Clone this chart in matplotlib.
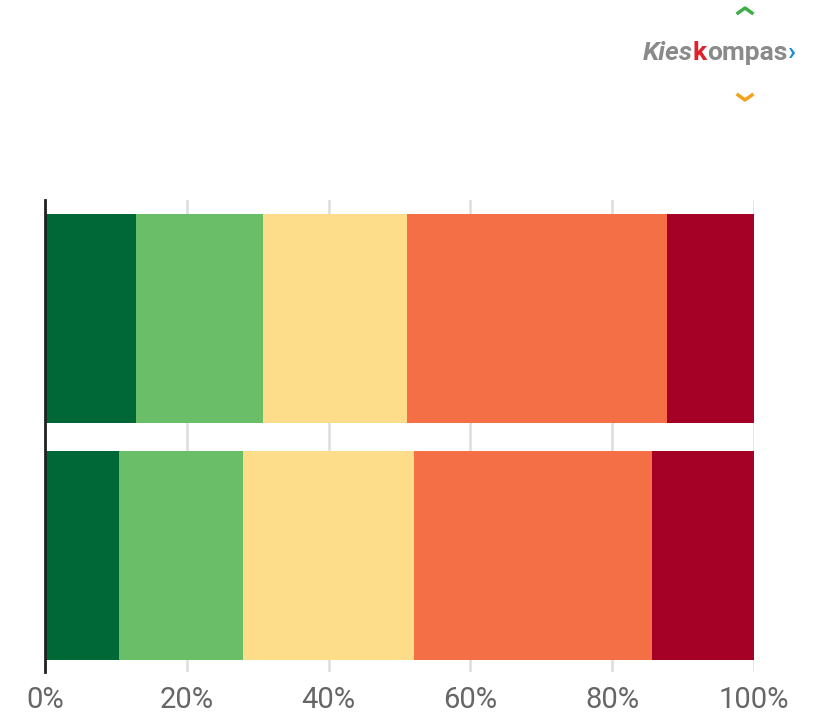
import matplotlib
matplotlib.use("Agg")
import matplotlib.pyplot as plt
from matplotlib.lines import Line2D
import numpy as np

plt.rcParams['font.family'] = ['Roboto', 'DejaVu Sans']

rows = ["A", "B"]
shares = {
    "zeer eens": [12.8, 10.4],
    "eens": [17.9, 17.5],
    "neutraal": [20.3, 24.1],
    "oneens": [36.7, 33.6],
    "zeer oneens": [12.3, 14.4],
}
colors = ["#006837", "#6abe67", "#fddc8a", "#f46f45", "#a50026"]
ticks = [0, 20, 40, 60, 80, 100]

W, H = 818, 720
fig = plt.figure(figsize=(W / 100, H / 100), dpi=100)
ax = fig.add_axes([45 / W, 1 - 672 / H, (754 - 45) / W, (672 - 200) / H])

y = np.arange(len(rows))
left = np.zeros(len(rows))
for (name, vals), c in zip(shares.items(), colors):
    ax.barh(y, vals, left=left, height=0.88, color=c, zorder=2)
    left += np.array(vals)

ax.set_xlim(0, 100)
ax.set_ylim(1.49, -0.5)
ax.set_xticks(ticks)
ax.set_xticklabels([f"{t}%" for t in ticks])
ax.set_yticks([])
ax.grid(axis='x', color='#dddddd', linewidth=1.8, zorder=0)
for s in ['top', 'right', 'bottom']:
    ax.spines[s].set_visible(False)
ax.spines['left'].set_linewidth(2)
ax.spines['left'].set_color('#222222')
ax.tick_params(axis='x', length=0, pad=10, labelsize=21, labelcolor='#666666')

# logo, pieces chained left to right
renderer = fig.canvas.get_renderer()
x = 643
pieces = [("Kies", '#8a8a8a', 'italic'), ("k", '#e0202a', 'normal'),
          ("ompas", '#8a8a8a', 'normal'), ("›", '#1f8ed6', 'normal')]
for txt, col, style in pieces:
    t = fig.text(x / W, 1 - 53 / H, txt, color=col, fontsize=19, fontstyle=style,
                 fontweight='bold', va='center', ha='left')
    x += t.get_window_extent(renderer).width

fig.add_artist(Line2D([738 / W, 745 / W, 752 / W], [1 - 13 / H, 1 - 8 / H, 1 - 13 / H],
                      color='#3fae49', linewidth=2.5))
fig.add_artist(Line2D([738 / W, 745 / W, 752 / W], [1 - 95 / H, 1 - 100 / H, 1 - 95 / H],
                      color='#f5a21b', linewidth=2.5))

fig.savefig("out.png", dpi=100)
